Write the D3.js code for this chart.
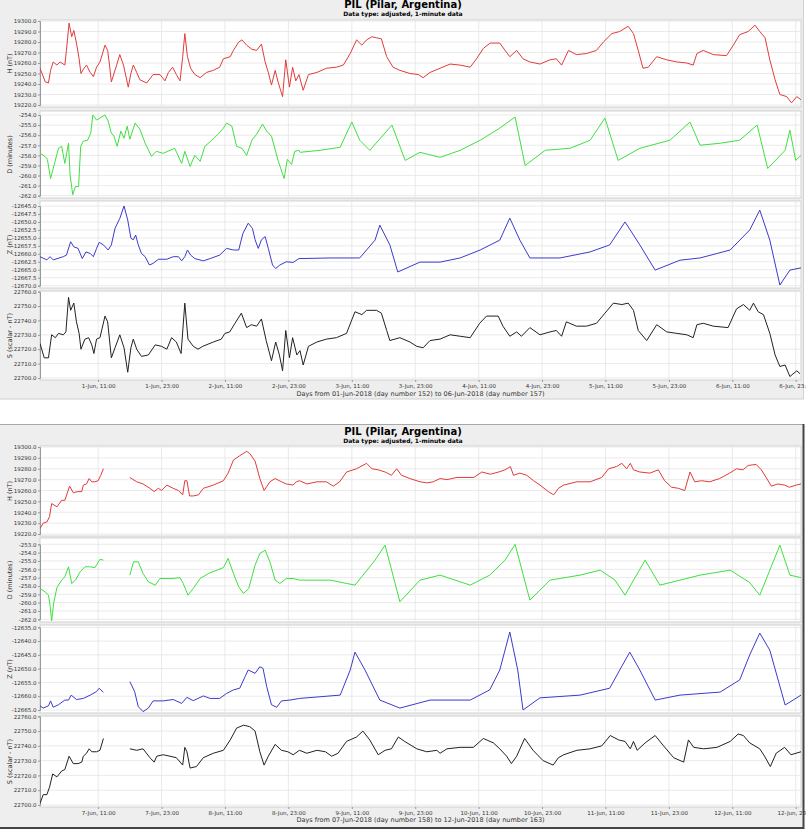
<!DOCTYPE html>
<html>
<head>
<meta charset="utf-8">
<script src="https://cdn.jsdelivr.net/npm/d3@7"></script>
<style>
  body { margin: 0; background: #fff; }
  svg { display: block; font-family: "DejaVu Sans", sans-serif; }
</style>
</head>
<body>
<div id="chart"></div>
<script>
// x tick positions, hours from the first midnight
const tickHours = [11, 23, 35, 47, 59, 71, 83, 95, 107, 119, 131, 143];
const ticksTop = ["1-Jun, 11:00", "1-Jun, 23:00", "2-Jun, 11:00", "2-Jun, 23:00", "3-Jun, 11:00", "3-Jun, 23:00",
                  "4-Jun, 11:00", "4-Jun, 23:00", "5-Jun, 11:00", "5-Jun, 23:00", "6-Jun, 11:00", "6-Jun, 23:00"];
const ticksBot = ["7-Jun, 11:00", "7-Jun, 23:00", "8-Jun, 11:00", "8-Jun, 23:00", "9-Jun, 11:00", "9-Jun, 23:00",
                  "10-Jun, 11:00", "10-Jun, 23:00", "11-Jun, 11:00", "11-Jun, 23:00", "12-Jun, 11:00", "12-Jun, 23:00"];

// data, [hour, value]; null value = missing data
const H1 = [[0,19255],[1,19242],[1.6,19241],[2,19253],[2.5,19261],[3.2,19258],[3.8,19261],[4.7,19258],[5,19272],[5.5,19298],[6,19285],[6.4,19291],[6.9,19279],[7.4,19264],[7.75,19250],[8.2,19254],[8.8,19258],[9.5,19251],[10.1,19247],[10.7,19256],[11.35,19261],[12.3,19277],[12.8,19272],[13.2,19256],[13.5,19242],[14.5,19258],[15.1,19268],[15.8,19258],[16.7,19237],[17.2,19250],[17.65,19258],[18.3,19251],[18.9,19244],[20.2,19241],[21.4,19249],[22.7,19249],[23.65,19243],[24.3,19251],[25.1,19256],[25.8,19249],[26.5,19243],[27,19266],[27.4,19288],[27.9,19266],[28.5,19255],[29.3,19249],[30.3,19246],[31.5,19251],[32.8,19253],[34,19256],[34.7,19264],[36,19266],[36.6,19272],[37.6,19280],[38.2,19282],[39.1,19277],[40.1,19273],[41,19272],[41.9,19278],[42.6,19261],[43.2,19251],[43.8,19239],[44.5,19253],[45.1,19241],[45.9,19228],[46.5,19263],[47.2,19237],[47.8,19256],[48.4,19243],[49,19249],[49.8,19234],[50.8,19249],[52.4,19251],[54.2,19255],[56.1,19256],[57.4,19258],[58.7,19269],[59.9,19282],[60.9,19277],[61.8,19282],[62.8,19285],[63.7,19284],[64.6,19283],[65.6,19266],[66.8,19256],[68.1,19253],[70,19250],[71.6,19249],[72.5,19246],[73.8,19251],[75.7,19255],[77.6,19259],[79.5,19258],[81.4,19256],[82.6,19264],[83.9,19274],[85.2,19279],[87,19279],[88,19272],[88.9,19266],[90.2,19272],[91.4,19264],[92.7,19261],[94.6,19259],[96.5,19263],[97.7,19264],[98.7,19258],[100,19272],[101.5,19268],[103.4,19269],[105.3,19272],[106.6,19280],[108.2,19288],[109.7,19290],[111.3,19295],[112.3,19288],[113.2,19272],[114.1,19255],[115.1,19256],[116.7,19266],[118.6,19263],[120.5,19261],[122.4,19260],[123.6,19258],[124.3,19269],[125.5,19272],[127.4,19268],[129.9,19267],[131.2,19277],[132.4,19287],[134,19290],[135.3,19296],[136.2,19290],[137.2,19284],[138.1,19263],[139.1,19244],[140,19230],[141.3,19228],[142.2,19222],[143.2,19228],[144,19225]];

const D1 = [[0,-257.8],[0.95,-258.1],[1.4,-258.4],[2,-260.3],[2.5,-259.3],[3.5,-257.3],[4.1,-257.1],[4.7,-258.8],[5.4,-256.8],[5.7,-260],[6.2,-261.9],[6.7,-261.1],[7.3,-261.1],[7.7,-257.1],[8.2,-256.6],[9,-256.5],[9.6,-255.8],[10,-254],[10.7,-254.5],[11.35,-254.3],[12.3,-254],[12.9,-254.6],[13.5,-255.8],[14,-256.1],[14.6,-257.1],[15.3,-255.6],[15.9,-256.3],[16.5,-255.1],[17,-256.4],[18,-254.8],[18.9,-255.4],[19.9,-256.8],[21.1,-258.1],[22,-257.6],[23.3,-257.8],[24.6,-257.5],[25.5,-257.3],[26.8,-258.8],[27.4,-257.6],[28.4,-259.1],[29.3,-258],[30.3,-258.6],[31.2,-257.1],[32.5,-256.5],[33.7,-255.9],[34.7,-255.3],[35.3,-254.8],[36.3,-255.1],[37.2,-257.1],[38.2,-257.3],[39.1,-258],[40.1,-256.5],[41,-255.9],[42.1,-254.9],[42.9,-255.6],[43.8,-256.1],[45.1,-258.6],[46.2,-260.3],[46.8,-258.4],[47.6,-258.9],[48.2,-257.6],[49,-257.5],[49.2,-257.7],[53,-257.5],[56.8,-257.2],[59,-254.7],[60.5,-256.5],[62.4,-257.5],[66.6,-255],[69.1,-258.5],[71.9,-257.7],[75.7,-258.2],[79.5,-257.5],[83.3,-256.5],[87,-255.3],[89.9,-254.2],[91.8,-259],[95.6,-257.5],[100.3,-257.3],[104.1,-256.5],[106.9,-254.3],[109.4,-258.5],[113.5,-257.3],[119.2,-256.5],[123,-254.7],[124.9,-257],[128.7,-256.8],[132.4,-256.5],[135.7,-255],[137.7,-259.3],[141,-257.5],[141.9,-255.5],[143,-258.5],[144,-258]];

const Z1 = [[0,-12660.9],[1.3,-12661.9],[1.9,-12660.9],[2.5,-12661.9],[4.4,-12660.9],[5,-12660.4],[5.8,-12656.2],[6.4,-12657.8],[7.2,-12658.3],[8,-12661.5],[8.7,-12659.4],[9.5,-12659.9],[10.1,-12660.9],[10.7,-12658.3],[11.2,-12656.4],[12,-12657.2],[12.9,-12658.8],[13.5,-12657.2],[14.2,-12652],[15.1,-12648.9],[15.9,-12645],[16.6,-12649.4],[17.2,-12655.1],[17.65,-12655.6],[18.1,-12654.1],[18.6,-12657.2],[19.2,-12659.9],[19.9,-12660.9],[20.7,-12663.5],[21.4,-12663],[22.4,-12661.7],[24,-12661.7],[25.2,-12660.9],[26.2,-12660.9],[26.8,-12662.2],[27.4,-12660.9],[27.9,-12658.8],[28.5,-12660.4],[29.3,-12661.5],[30.9,-12662.2],[32.2,-12661.5],[34,-12660.4],[35.3,-12658.3],[36.6,-12658.8],[37.6,-12658.8],[38.4,-12653.6],[39.4,-12650.4],[40.2,-12652],[40.7,-12655.6],[41.3,-12658.3],[41.9,-12655.6],[42.6,-12654.6],[43.2,-12658.3],[44,-12663.5],[44.6,-12664.6],[45.4,-12663.5],[46.6,-12662.5],[47.9,-12662.7],[49,-12661.5],[54.9,-12661.3],[60.5,-12661.3],[63.4,-12655.7],[64.3,-12651],[66.2,-12657.2],[67.7,-12665.7],[71.9,-12662.6],[75.7,-12662.6],[79.5,-12661.3],[83.3,-12658.8],[87,-12655.7],[88.9,-12648.8],[90.8,-12655.7],[92.7,-12661.3],[98.4,-12661.3],[104.1,-12659.4],[107.8,-12657.2],[110.7,-12650],[113.5,-12657.2],[116.4,-12665.1],[121.1,-12662],[124.9,-12661.3],[130.6,-12658.8],[134.3,-12652.5],[136.2,-12646.3],[138.1,-12655.7],[140,-12669.8],[141.9,-12665.1],[144,-12664.4]];

const S1 = [[0,22724],[0.8,22714],[1.6,22714],[2.2,22730],[2.9,22728],[3.5,22731],[4.4,22730],[4.9,22732],[5.4,22756],[5.8,22747],[6.4,22752],[6.9,22739],[7.4,22731],[7.75,22720],[8.5,22727],[9.2,22728],[9.8,22723],[10.2,22717],[10.7,22727],[11.35,22728],[12.3,22743],[12.8,22739],[13.5,22714],[14.2,22721],[15.1,22730],[15.9,22721],[16.6,22704],[17.2,22721],[17.65,22727],[18.3,22720],[19.2,22715],[20.5,22716],[21.8,22723],[23,22722],[24,22720],[24.9,22728],[25.8,22725],[26.7,22717],[27.4,22752],[28,22727],[29,22722],[29.9,22720],[30.8,22722],[32.8,22725],[34.3,22727],[35,22731],[35.9,22732],[36.9,22738],[38.1,22745],[39.1,22735],[40,22737],[41,22736],[41.9,22741],[42.8,22726],[43.8,22712],[44.6,22725],[45.3,22716],[45.9,22705],[46.5,22733],[47.2,22714],[47.8,22728],[48.6,22716],[49.2,22719],[49.8,22709],[50.8,22722],[52.4,22725],[54.2,22727],[56.1,22728],[58,22731],[59.6,22746],[60.9,22744],[61.8,22747],[63.7,22747],[64.6,22745],[65.6,22733],[66.2,22726],[68.1,22728],[70,22725],[71.3,22722],[72.5,22721],[73.8,22726],[75.7,22727],[77.6,22730],[79.5,22729],[81.4,22728],[83.2,22738],[84.5,22743],[86.7,22743],[87.6,22736],[88.9,22729],[90.2,22732],[91.1,22729],[92.7,22735],[94.6,22730],[96.5,22732],[97.7,22733],[98.7,22729],[99.6,22739],[101.5,22736],[103.4,22736],[105.3,22738],[106.9,22745],[108.5,22752],[110.1,22751],[111.3,22752],[112.3,22747],[113.2,22733],[114.8,22726],[116.7,22737],[118.6,22732],[120.5,22731],[122.4,22730],[123.6,22728],[124.3,22737],[125.5,22738],[127.4,22736],[130.2,22735],[131.8,22748],[133.1,22751],[134.3,22747],[135,22752],[135.9,22746],[136.9,22744],[138.1,22731],[139.1,22716],[140,22708],[141,22709],[141.9,22701],[143.2,22705],[143.8,22703]];

const H2 = [[0,19225],[0.6,19230],[1.3,19231],[1.8,19236],[2.2,19248],[3.2,19245],[4.1,19251],[4.7,19251],[5.6,19264],[6.3,19258],[7.2,19259],[7.9,19259],[8.2,19265],[8.8,19266],[9.3,19271],[9.8,19268],[10.4,19268],[11,19269],[11.5,19274],[12,19280],[14,null],[17,19272],[18.3,19268],[19.5,19266],[20.8,19262],[21.6,19259],[22.4,19262],[23,19260],[24,19265],[25.2,19262],[26.2,19260],[27,19256],[27.4,19269],[27.8,19269],[28.3,19255],[29,19255],[30,19256],[30.9,19262],[32.8,19265],[34.7,19269],[35.6,19276],[36.6,19288],[37.8,19292],[39.1,19296],[39.7,19294],[40.7,19287],[41.6,19271],[42.4,19260],[43.5,19268],[44.5,19271],[45.7,19268],[46.6,19266],[47.9,19265],[48.5,19268],[49.1,19269],[50.5,19266],[52.4,19268],[54.2,19268],[55.5,19264],[56.7,19268],[58,19277],[59.9,19280],[61.8,19285],[62.8,19280],[64,19279],[65.3,19277],[66.5,19274],[67.5,19280],[68.4,19274],[70,19271],[71.9,19268],[73.2,19267],[74.4,19268],[75.7,19271],[77,19270],[78.9,19272],[80.8,19272],[82.1,19272],[83.6,19277],[85.2,19275],[86.8,19277],[88,19279],[89,19282],[89.6,19274],[90.8,19276],[92.1,19274],[93.4,19269],[94.6,19265],[96.2,19259],[97.2,19256],[98.1,19262],[99.1,19265],[101.6,19268],[104.1,19268],[106.3,19272],[107.6,19280],[109.1,19282],[110.1,19285],[111,19280],[111.7,19285],[112.3,19279],[113.5,19277],[115.4,19276],[117,19279],[118.2,19269],[119.5,19263],[120.8,19262],[122,19260],[123,19277],[123.9,19268],[125.2,19269],[126.7,19268],[128.6,19271],[130.5,19276],[131.8,19280],[133,19279],[134,19283],[135.5,19284],[136.5,19279],[137.4,19272],[138.4,19264],[139.6,19266],[140.9,19265],[141.8,19263],[143.1,19265],[144,19266]];

const D2 = [[0,-258.3],[0.95,-258.7],[1.6,-259.1],[1.9,-260.3],[2.2,-262.2],[2.6,-260],[3.2,-258.2],[4.1,-257.3],[4.7,-256.9],[5.4,-255.7],[6,-257.7],[6.7,-257.3],[7.6,-256.3],[8.5,-255.7],[9.5,-255.7],[10.4,-255.8],[11.35,-254.8],[12,-254.9],[14,null],[17,-256.7],[17.7,-255.1],[18.6,-255.1],[19.5,-256.5],[20.5,-257.5],[21.8,-257.9],[22.7,-257.1],[24,-257.1],[25.2,-257.1],[26.5,-257],[27.1,-257.7],[28,-259.1],[29,-258.3],[30.3,-257.1],[31.9,-256.5],[33.5,-256.1],[34.7,-255.8],[35.6,-254.7],[36.6,-256.5],[37.6,-258.1],[38.5,-258.9],[39.5,-258.3],[40.7,-255.5],[41.6,-254.1],[42.6,-253.7],[43.5,-255.1],[44.5,-257.3],[45.4,-257.7],[46.6,-257.1],[47.9,-257.1],[49.1,-257.3],[54.9,-257.3],[59.6,-257.9],[63.4,-254.9],[65.3,-253.1],[68.1,-259.9],[71.9,-257.3],[75.7,-256.7],[81.4,-257.9],[85.1,-256.7],[88,-254.9],[89.9,-253],[92.7,-259.7],[96.5,-257.3],[102.2,-256.7],[106,-256.1],[108.8,-257.3],[110.7,-259.1],[114.5,-254.9],[117.3,-257.9],[124.9,-256.7],[130.6,-256.1],[134.3,-257.6],[136.2,-259.1],[140,-253.1],[141.9,-256.7],[144,-257]];

const Z2 = [[0,-12663.5],[0.6,-12664.3],[1.6,-12663.5],[2,-12661.7],[2.5,-12664],[3.5,-12663.1],[4.7,-12661.4],[5.4,-12661.4],[5.9,-12659.6],[6.9,-12661.2],[8.2,-12660.8],[9.5,-12659.6],[10.7,-12658.3],[11.2,-12657.1],[12,-12658.6],[14,null],[17,-12654.7],[17.9,-12658.3],[18.6,-12663.8],[19.5,-12665.6],[20.5,-12664.3],[21.4,-12661.7],[23.3,-12661.7],[25.2,-12661.2],[26.8,-12662.6],[27.8,-12660.4],[29,-12661.6],[30.9,-12659.9],[32.2,-12660.8],[34,-12660.8],[35.3,-12659],[36.6,-12657.7],[37.8,-12657.1],[38.8,-12652.9],[39.4,-12650.5],[40.7,-12651.7],[41.6,-12649.3],[42.2,-12649.9],[42.9,-12656.5],[43.8,-12663.1],[44.8,-12664],[45.7,-12661.7],[47.3,-12661.4],[49.1,-12660.8],[56.8,-12659.6],[58.7,-12650.5],[59.6,-12644],[61.5,-12650.5],[64.3,-12661.4],[68.1,-12664.3],[73.8,-12661.4],[81.4,-12661.4],[85.1,-12657.7],[87,-12650.5],[88.9,-12636.7],[90.4,-12650.5],[91.4,-12665],[94.6,-12660.6],[102.2,-12659.6],[107.8,-12657.1],[109.7,-12650.5],[111.6,-12644],[113.5,-12650.5],[116.4,-12661.4],[121.1,-12659.6],[128.7,-12658.5],[132.4,-12654.1],[134.3,-12645],[136.2,-12637.1],[138.1,-12643.3],[141,-12663.2],[144,-12659.6]];

const S2 = [[0,22701],[0.6,22707],[1.3,22707],[1.8,22712],[2.4,22721],[3.2,22719],[4.1,22723],[4.7,22724],[5.5,22733],[6.3,22728],[7.2,22728],[7.9,22729],[8.2,22733],[8.8,22735],[9.3,22738],[9.8,22736],[10.7,22736],[11.35,22737],[12,22745],[14,null],[17,22738],[18.3,22737],[19.5,22738],[20.8,22732],[21.6,22729],[22.1,22733],[23.3,22734],[24.6,22733],[25.8,22732],[27,22727],[27.4,22739],[27.8,22736],[28.4,22725],[29.6,22726],[30.9,22732],[32.8,22735],[34.7,22737],[36,22744],[37.2,22752],[38.5,22754],[39.7,22753],[40.7,22750],[41.6,22736],[42.4,22727],[43.2,22733],[44.5,22741],[45.7,22737],[46.9,22736],[47.9,22734],[49.1,22737],[50.5,22735],[52.4,22737],[54,22736],[55.2,22733],[56.4,22735],[58,22743],[59.9,22746],[61.1,22750],[62.4,22744],[64,22734],[65.3,22737],[66.5,22738],[67.8,22746],[69,22743],[71.3,22738],[73.2,22736],[75.1,22737],[75.7,22735],[77,22738],[79.5,22739],[82,22739],[83.9,22745],[85.8,22742],[87,22738],[88.3,22733],[89.2,22728],[90.2,22733],[91.7,22745],[93.3,22737],[95.2,22730],[97.1,22727],[98.1,22732],[99.1,22734],[101.6,22737],[104.1,22738],[106.3,22740],[107.9,22747],[109.5,22744],[110.7,22743],[111.7,22738],[112.3,22743],[113,22737],[114.5,22742],[116.4,22747],[118,22740],[119.9,22732],[121.8,22729],[122.7,22744],[123.7,22739],[125.6,22738],[128.1,22739],[130.6,22743],[132.1,22748],[133.1,22747],[134.3,22742],[136.2,22738],[137.1,22733],[138.2,22726],[139.3,22735],[140.9,22739],[142.1,22734],[144,22736]];

const svg = d3.select("#chart").append("svg")
    .attr("width", 806)
    .attr("height", 830);

const x = d3.scaleLinear().domain([0, 144]).range([40, 801]);

function figure(top, cfg) {
  // background of the figure
  svg.append("rect")
      .attr("x", 0).attr("y", top.y0)
      .attr("width", 804).attr("height", top.y1 - top.y0)
      .attr("fill", "#eeeeee");
  // frame: light on top, darker on right and bottom
  svg.append("path")
      .attr("d", "M0," + (top.y0 + 0.5) + "H804")
      .attr("stroke", top.topLine).attr("fill", "none");
  svg.append("path")
      .attr("d", "M803.5," + top.y0 + "V" + top.y1 + "H0")
      .attr("stroke", top.border).attr("stroke-width", top.bw).attr("fill", "none");

  svg.append("text")
      .attr("x", 403).attr("y", top.titleY)
      .attr("text-anchor", "middle")
      .style("font", "bold 10px 'DejaVu Sans'")
      .text("PIL (Pilar, Argentina)");
  svg.append("text")
      .attr("x", 403).attr("y", top.titleY + 8)
      .attr("text-anchor", "middle")
      .style("font", "bold 6px 'DejaVu Sans'")
      .text("Data type: adjusted, 1-minute data");

  cfg.forEach(function(p, i) {
    var y = d3.scaleLinear().domain(p.dom).range(p.rng);

    svg.append("rect")
        .attr("x", x(0)).attr("y", p.y0)
        .attr("width", x(144) - x(0)).attr("height", p.y1 - p.y0)
        .attr("fill", "#fff")
        .attr("stroke", "#c8c8c8").attr("stroke-width", 0.8);

    // grid
    svg.append("g").selectAll("line").data(p.ticks).join("line")
        .attr("x1", x(0)).attr("x2", x(144))
        .attr("y1", d => y(d)).attr("y2", d => y(d))
        .attr("stroke", "#e4e4e4").attr("stroke-width", 0.8);
    svg.append("g").selectAll("line").data(tickHours).join("line")
        .attr("x1", d => x(d)).attr("x2", d => x(d))
        .attr("y1", p.y0).attr("y2", p.y1)
        .attr("stroke", "#e4e4e4").attr("stroke-width", 0.8);

    var ax = svg.append("g")
        .attr("transform", "translate(" + x(0) + ",0)")
        .call(d3.axisLeft(y).tickValues(p.ticks).tickSize(2).tickPadding(1.5)
              .tickFormat(d => d.toFixed(1)));
    ax.select(".domain").attr("stroke", "#999");
    ax.selectAll(".tick line").attr("stroke", "#999");
    ax.selectAll("text").style("font", "5.5px 'DejaVu Sans'").attr("fill", "#333");

    svg.append("text")
        .attr("transform", "translate(12," + ((p.y0 + p.y1) / 2) + ")rotate(-90)")
        .attr("text-anchor", "middle")
        .style("font", "6.5px 'DejaVu Sans'")
        .attr("fill", "#333")
        .text(p.name);

    var clipId = "clip" + top.id + i;
    svg.append("clipPath").attr("id", clipId)
      .append("rect")
        .attr("x", x(0)).attr("y", p.y0)
        .attr("width", x(144) - x(0)).attr("height", p.y1 - p.y0);

    var line = d3.line()
        .defined(d => d[1] !== null)
        .x(d => x(d[0]))
        .y(d => y(d[1]));
    svg.append("path")
        .datum(p.data)
        .attr("clip-path", "url(#" + clipId + ")")
        .attr("fill", "none")
        .attr("stroke", p.color)
        .attr("stroke-width", 1)
        .attr("stroke-linejoin", "round")
        .attr("d", line);
  });

  // x axis under the last panel
  var last = cfg[cfg.length - 1];
  var xa = svg.append("g")
      .attr("transform", "translate(0," + last.y1 + ")")
      .call(d3.axisBottom(x).tickValues(tickHours).tickSize(2).tickPadding(2)
            .tickFormat((d, i) => top.labels[i]));
  xa.select(".domain").remove();
  xa.selectAll(".tick line").attr("stroke", "#999");
  xa.selectAll("text").style("font", "5.5px 'DejaVu Sans'").attr("fill", "#333");

  svg.append("text")
      .attr("x", (x(0) + x(144)) / 2).attr("y", top.xlabelY)
      .attr("text-anchor", "middle")
      .style("font", "6.5px 'DejaVu Sans'")
      .attr("fill", "#333")
      .text(top.xlabel);
}

figure({id: "a", y0: 0, y1: 399, titleY: 8, xlabelY: 396, topLine: "#eeeeee", border: "#d0d0d0", bw: 1,
        labels: ticksTop,
        xlabel: "Days from 01-Jun-2018 (day number 152) to 06-Jun-2018 (day number 157)"}, [
  {name: "H (nT)", data: H1, color: "#e23b3b", y0: 20, y1: 107, dom: [19220, 19300], rng: [105, 21],
   ticks: d3.range(19220, 19301, 10)},
  {name: "D (minutes)", data: D1, color: "#3fe03f", y0: 111, y1: 198, dom: [-262, -254], rng: [195.7, 115],
   ticks: d3.range(-262, -253.9, 1)},
  {name: "Z (nT)", data: Z1, color: "#3b3bcc", y0: 201, y1: 288, dom: [-12670, -12645], rng: [285.7, 206],
   ticks: d3.range(-12670, -12644.9, 2.5)},
  {name: "S (scalar - nT)", data: S1, color: "#222", y0: 291, y1: 380, dom: [22700, 22760], rng: [378, 291.6],
   ticks: d3.range(22700, 22761, 10)}
]);

figure({id: "b", y0: 424, y1: 828, titleY: 435, xlabelY: 822, topLine: "#a8a8a8", border: "#444", bw: 2,
        labels: ticksBot,
        xlabel: "Days from 07-Jun-2018 (day number 158) to 12-Jun-2018 (day number 163)"}, [
  {name: "H (nT)", data: H2, color: "#e23b3b", y0: 446, y1: 536, dom: [19220, 19300], rng: [534, 447],
   ticks: d3.range(19220, 19301, 10)},
  {name: "D (minutes)", data: D2, color: "#3fe03f", y0: 538, y1: 622, dom: [-262, -253], rng: [619.3, 544.3],
   ticks: d3.range(-262, -252.9, 1)},
  {name: "Z (nT)", data: Z2, color: "#3b3bcc", y0: 625, y1: 713, dom: [-12665, -12635], rng: [710, 627.3],
   ticks: d3.range(-12665, -12634.9, 5)},
  {name: "S (scalar - nT)", data: S2, color: "#222", y0: 716, y1: 807, dom: [22700, 22760], rng: [805, 716.3],
   ticks: d3.range(22700, 22761, 10)}
]);
</script>
</body>
</html>
